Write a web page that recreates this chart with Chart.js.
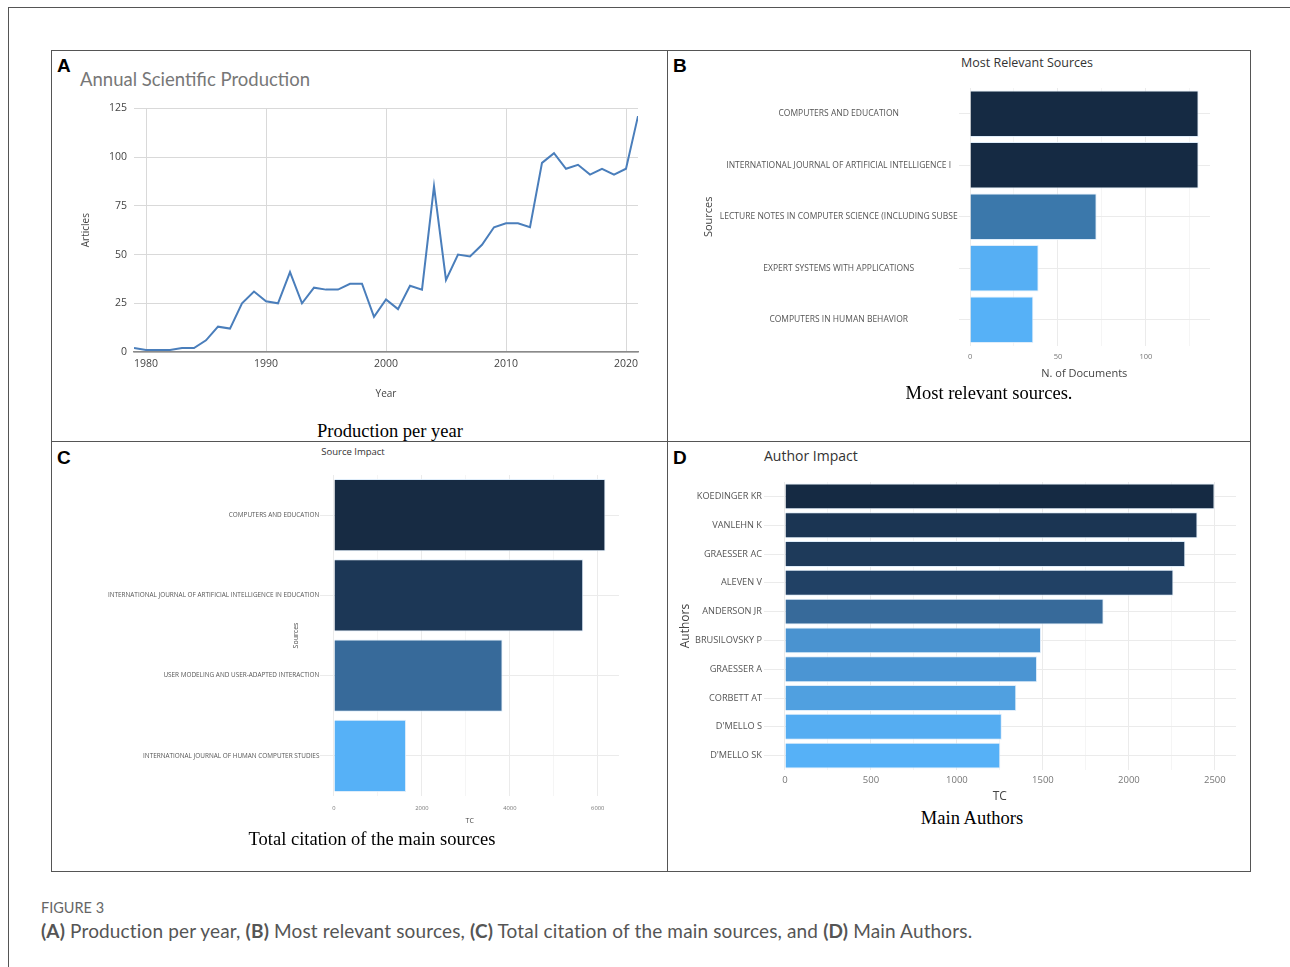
<!DOCTYPE html>
<html>
<head>
<meta charset="utf-8">
<script src="https://cdn.jsdelivr.net/npm/chart.js@4.4.1/dist/chart.umd.min.js"></script>
<style>
  body { margin: 0; background: #fff; width: 1290px; height: 967px; position: relative; overflow: hidden; font-family: "Open Sans", sans-serif; }
  .abs { position: absolute; }
  canvas { position: absolute; }
  .line { position: absolute; background: #555; }
  .letter { position: absolute; font-family: "Liberation Sans", Arial, sans-serif; font-weight: bold; font-size: 19px; color: #000; line-height: 1; }
  .cap { position: absolute; font-family: "Liberation Serif", "Times New Roman", serif; font-size: 18.5px; color: #000; white-space: nowrap; transform: translate(-50%, -50%); }
  .ttl { position: absolute; white-space: nowrap; transform: translateY(-50%); color: #333; }
</style>
</head>
<body>
<!-- outer frame -->
<div class="line" style="left:8px; top:7px; width:1282px; height:1px;"></div>
<div class="line" style="left:8px; top:7px; width:1px; height:960px;"></div>
<!-- panel grid -->
<div class="line" style="left:51px; top:50px; width:1200px; height:1px;"></div>
<div class="line" style="left:51px; top:871px; width:1200px; height:1px;"></div>
<div class="line" style="left:51px; top:50px; width:1px; height:822px;"></div>
<div class="line" style="left:1250px; top:50px; width:1px; height:822px;"></div>
<div class="line" style="left:667px; top:50px; width:1px; height:822px;"></div>
<div class="line" style="left:51px; top:441px; width:1200px; height:1px;"></div>

<div class="letter" style="left:57px; top:56px;">A</div>
<div class="letter" style="left:673px; top:56px;">B</div>
<div class="letter" style="left:57px; top:448px;">C</div>
<div class="letter" style="left:673px; top:448px;">D</div>

<div class="ttl" style="left:80px; top:79px; font-family:Lato, sans-serif; font-size:18.5px; color:#777;">Annual Scientific Production</div>
<div class="ttl" style="left:1027px; top:62px; font-size:12.5px; transform:translate(-50%,-50%);">Most Relevant Sources</div>
<div class="ttl" style="left:353px; top:451px; font-size:9.5px; transform:translate(-50%,-50%);">Source Impact</div>
<div class="ttl" style="left:764px; top:455px; font-size:14px;">Author Impact</div>

<canvas id="chartA" width="590" height="315" style="left:70px; top:95px;"></canvas>
<canvas id="chartB" width="530" height="305" style="left:700px; top:80px;"></canvas>
<canvas id="chartC" width="575" height="365" style="left:60px; top:465px;"></canvas>
<canvas id="chartD" width="565" height="335" style="left:675px; top:470px;"></canvas>

<div class="cap" style="left:390px; top:431px;">Production per year</div>
<div class="cap" style="left:989px; top:393px;">Most relevant sources.</div>
<div class="cap" style="left:372px; top:839px;">Total citation of the main sources</div>
<div class="cap" style="left:972px; top:818px;">Main Authors</div>

<div class="abs" style="left:41px; top:899px; font-family:Lato, sans-serif; font-size:14.5px; color:#666;">FIGURE 3</div>
<div class="abs" style="left:41px; top:919px; font-family:Lato, sans-serif; font-size:19px; letter-spacing:0.15px; color:#555; white-space:nowrap;"><b>(A)</b> Production per year, <b>(B)</b> Most relevant sources, <b>(C)</b> Total citation of the main sources, and <b>(D)</b> Main Authors.</div>

<script>
// Panel A - annual production
const years = [1979, 1980, 1981, 1982, 1983, 1984, 1985, 1986, 1987, 1988, 1989, 1990, 1991, 1992, 1993, 1994, 1995, 1996, 1997, 1998, 1999, 2000, 2001, 2002, 2003, 2004, 2005, 2006, 2007, 2008, 2009, 2010, 2011, 2012, 2013, 2014, 2015, 2016, 2017, 2018, 2019, 2020, 2021]
const articles = [2, 1, 1, 1, 2, 2, 6, 13, 12, 25, 31, 26, 25, 41, 25, 33, 32, 32, 35, 35, 18, 27, 22, 34, 32, 85, 37, 50, 49, 55, 64, 66, 66, 64, 97, 102, 94, 96, 91, 94, 91, 94, 121]
const yearTicks = [1980, 1990, 2000, 2010, 2020]

// Panel B - most relevant sources
const sourcesB = ["COMPUTERS AND EDUCATION", "INTERNATIONAL JOURNAL OF ARTIFICIAL INTELLIGENCE I", "LECTURE NOTES IN COMPUTER SCIENCE (INCLUDING SUBSE", "EXPERT SYSTEMS WITH APPLICATIONS", "COMPUTERS IN HUMAN BEHAVIOR"]
const documentsB = [130, 130, 72, 39, 36]
const ticksB = [0, 25, 50, 75, 100, 125]

// Panel C - source impact
const sourcesC = ["COMPUTERS AND EDUCATION", "INTERNATIONAL JOURNAL OF ARTIFICIAL INTELLIGENCE IN EDUCATION", "USER MODELING AND USER-ADAPTED INTERACTION", "INTERNATIONAL JOURNAL OF HUMAN COMPUTER STUDIES"]
const citationsC = [6175, 5670, 3835, 1640]
const ticksC = [0, 1000, 2000, 3000, 4000, 5000, 6000]

// Panel D - author impact
const authorsD = ["KOEDINGER KR", "VANLEHN K", "GRAESSER AC", "ALEVEN V", "ANDERSON JR", "BRUSILOVSKY P", "GRAESSER A", "CORBETT AT", "D'MELLO S", "D'MELLO SK"]
const citationsD = [2498, 2399, 2328, 2259, 1853, 1489, 1466, 1345, 1261, 1252]
const ticksD = [0, 250, 500, 750, 1000, 1250, 1500, 1750, 2000, 2250, 2500]

Chart.defaults.font.family = "'Open Sans', sans-serif"
Chart.defaults.plugins.legend.display = false
Chart.defaults.plugins.tooltip.enabled = false
Chart.defaults.animation = false

const colorsB = ["#152a43", "#152a43", "#3b78ab", "#56aff4", "#56b1f7"]
const colorsC = ["#172b43", "#1c3756", "#376a9a", "#56b1f7"]
const colorsD = ["#152a43", "#1b3553", "#1e3a5a", "#214165", "#376a9a", "#4a93d0", "#4b95d3", "#50a0e0", "#55adf2", "#56b1f7"]

const criarGraficoLinha = () => {
    new Chart(document.querySelector("#chartA"), {
        type: 'line',
        data: {
            datasets: [{
                data: years.map((y, i) => ({ x: y, y: articles[i] })),
                borderColor: '#4a7ebb',
                borderWidth: 2,
                pointRadius: 0,
                tension: 0
            }]
        },
        options: {
            responsive: false,
            layout: { padding: { top: 12, right: 22, left: 0, bottom: 0 } },
            scales: {
                x: {
                    type: 'linear',
                    min: 1979,
                    max: 2021,
                    afterBuildTicks: s => { s.ticks = yearTicks.map(v => ({ value: v })) },
                    afterFit: s => { s.height = 58 },
                    grid: { color: '#d9d9d9', drawTicks: false },
                    border: { display: true, color: '#8a8a8a', width: 1.5 },
                    ticks: { padding: 6, color: '#444', font: { size: 10.5 }, callback: v => v },
                    title: { display: true, text: 'Year', color: '#444', font: { size: 10 }, padding: { top: 0, bottom: 10 } }
                },
                y: {
                    min: 0,
                    max: 125,
                    afterFit: s => { s.width = 64 },
                    grid: { color: '#d9d9d9', drawTicks: false },
                    border: { display: false },
                    ticks: { stepSize: 25, padding: 7, color: '#444', font: { size: 10.5 } },
                    title: { display: true, text: 'Articles', color: '#444', font: { size: 10 }, padding: { top: 10, bottom: 0 } }
                }
            }
        }
    })
}

const gridMinor = (step) => ctx => (ctx.tick && ctx.tick.value % step === 0) ? '#ebebeb' : '#f5f5f5'

const criarGraficoBarras = (id, labels, data, colors, cfg) => {
    new Chart(document.querySelector(id), {
        type: 'bar',
        data: {
            labels,
            datasets: [{
                data,
                backgroundColor: colors,
                borderColor: 'rgba(220,235,250,0.9)',
                borderWidth: 1,
                categoryPercentage: 0.9,
                barPercentage: 1
            }]
        },
        options: {
            indexAxis: 'y',
            responsive: false,
            layout: { padding: cfg.padding },
            scales: {
                x: {
                    type: 'linear',
                    min: cfg.min,
                    max: cfg.max,
                    afterBuildTicks: s => { s.ticks = cfg.ticks.map(v => ({ value: v })) },
                    afterFit: s => { s.height = cfg.xHeight },
                    grid: { color: gridMinor(cfg.major), drawTicks: false },
                    border: { display: false },
                    ticks: { padding: cfg.xPad, color: '#777', font: { size: cfg.xFont }, callback: v => v % cfg.major === 0 ? v : '' },
                    title: { display: true, text: cfg.xTitle, color: '#444', font: { size: cfg.xTitleFont }, padding: { top: 0, bottom: cfg.xTitlePad } }
                },
                y: {
                    afterFit: s => { s.width = cfg.yWidth },
                    grid: { color: '#ebebeb', drawTicks: false, offset: false },
                    border: { display: false },
                    ticks: { padding: cfg.yPad, crossAlign: cfg.align, color: '#555', font: { size: cfg.yFont } },
                    title: { display: true, text: cfg.yTitle, color: '#444', font: { size: cfg.yTitleFont }, padding: { top: cfg.yTitlePad, bottom: 0 } }
                }
            }
        }
    })
}

criarGraficoLinha()

criarGraficoBarras("#chartB", sourcesB, documentsB, colorsB, {
    padding: { top: 8, right: 20, left: 0, bottom: 0 },
    min: -6.5, max: 136.5, ticks: ticksB, major: 50,
    xHeight: 39.5, xPad: 7, xFont: 7.5, xTitle: 'N. of Documents', xTitleFont: 11, xTitlePad: 5,
    yWidth: 258.6, yPad: 1, yFont: 8.5, align: 'center', yTitle: 'Sources', yTitleFont: 11, yTitlePad: 2
})

criarGraficoBarras("#chartC", sourcesC, citationsC, colorsC, {
    padding: { top: 10, right: 16, left: 0, bottom: 0 },
    min: -309, max: 6484, ticks: ticksC, major: 2000,
    xHeight: 34, xPad: 9, xFont: 5.8, xTitle: 'TC', xTitleFont: 7, xTitlePad: 5,
    yWidth: 260.4, yPad: 1, yFont: 6.4, align: 'near', yTitle: 'Sources', yTitleFont: 7, yTitlePad: 232
})

criarGraficoBarras("#chartD", authorsD, citationsD, colorsD, {
    padding: { top: 12, right: 4, left: 0, bottom: 0 },
    min: -125, max: 2623, ticks: ticksD, major: 500,
    xHeight: 35, xPad: 4.5, xFont: 9.5, xTitle: 'TC', xTitleFont: 12, xTitlePad: 1,
    yWidth: 88.5, yPad: 1.5, yFont: 9.2, align: 'near', yTitle: 'Authors', yTitleFont: 12, yTitlePad: 3
})
</script>
</body>
</html>
